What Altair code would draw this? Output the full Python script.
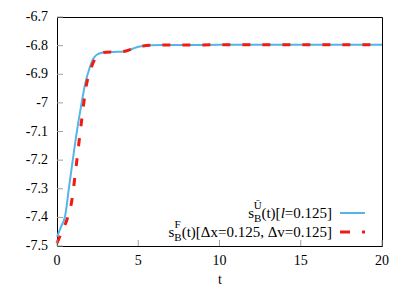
import altair as alt
import pandas as pd

# ---- data ----
t_blue = [0, 0.25, 0.5, 0.75, 1.0, 1.25, 1.5, 1.75, 2.0, 2.2, 2.4, 2.7, 3.0, 3.5,
          4.0, 4.3, 4.7, 5.0, 5.3, 5.7, 6.5, 8, 10, 12, 14, 16, 18, 20]
s_blue = [-7.468, -7.432, -7.395, -7.29, -7.188, -7.09, -7.005, -6.93, -6.879, -6.849,
          -6.834, -6.826, -6.823, -6.822, -6.821, -6.818, -6.810, -6.804, -6.801, -6.799,
          -6.798, -6.798, -6.797, -6.797, -6.797, -6.797, -6.797, -6.797]

t_red = [0, 0.3, 0.6, 0.9, 1.2, 1.5, 1.8, 2.1, 2.4, 2.7, 3.0, 3.5, 4.0, 4.3, 4.7,
         5.0, 5.3, 5.7, 6.5, 8, 10, 12, 14, 16, 18, 20]
s_red = [-7.49, -7.45, -7.41, -7.345, -7.211, -7.068, -6.94, -6.878, -6.841, -6.827,
         -6.823, -6.822, -6.821, -6.818, -6.810, -6.804, -6.801, -6.799, -6.798, -6.798,
         -6.797, -6.797, -6.797, -6.797, -6.797, -6.797]

x_ticks = [0, 5, 10, 15, 20]
x_labels = ["0", "5", "10", "15", "20"]
y_ticks = [-7.5, -7.4, -7.3, -7.2, -7.1, -7.0, -6.9, -6.8, -6.7]
y_labels = ["-7.5", "-7.4", "-7.3", "-7.2", "-7.1", "-7", "-6.9", "-6.8", "-6.7"]

W, H = 325, 229
FONT = "Liberation Serif"
BLUE = "#56B4E9"
RED = "#ee1c12"

blue_df = pd.DataFrame({"t": t_blue, "s": s_blue})
red_df = pd.DataFrame({"t": t_red, "s": s_red})
xt_df = pd.DataFrame({"v": x_ticks, "lab": x_labels})
yt_df = pd.DataFrame({"v": y_ticks, "lab": y_labels})

xscale = alt.Scale(domain=[0, 20], nice=False)
yscale = alt.Scale(domain=[-7.5, -6.7], nice=False)

xax = alt.Axis(values=x_ticks, ticks=False, tickSize=0, domain=False, grid=False,
               labels=False, labelPadding=0,
               title="t", titleFont=FONT, titleFontSize=14, titleFontWeight="normal",
               titleColor="black", titlePadding=26)
yax = alt.Axis(values=y_ticks, ticks=False, tickSize=0, domain=False, grid=False,
               labels=False, title=None)

X = lambda f: alt.X(f, scale=xscale, axis=xax)
Y = lambda f: alt.Y(f, scale=yscale, axis=yax)

blue = alt.Chart(blue_df).mark_line(color=BLUE, strokeWidth=2, interpolate="monotone").encode(
    x=X("t:Q"), y=Y("s:Q"))
red = alt.Chart(red_df).mark_line(color=RED, strokeWidth=3, strokeDash=[8, 12],
                                  interpolate="monotone").encode(
    x=X("t:Q"), y=Y("s:Q"))

yt = alt.Chart(yt_df).mark_rule(color="#a0a0a0", strokeWidth=1).encode(
    y=Y("v:Q"), x=alt.value(0), x2=alt.value(6))
xt = alt.Chart(xt_df).mark_rule(color="#a0a0a0", strokeWidth=1).encode(
    x=X("v:Q"), y=alt.value(H), y2=alt.value(H - 6))

ylab = alt.Chart(yt_df).mark_text(font=FONT, fontSize=14, align="right", baseline="middle",
                                  color="black").encode(
    y=Y("v:Q"), x=alt.value(-9), text="lab:N")
xlab = alt.Chart(xt_df).mark_text(font=FONT, fontSize=14, align="center", baseline="top",
                                  color="black").encode(
    x=X("v:Q"), y=alt.value(H + 8), text="lab:N")

one = alt.Data(values=[{}])


def txt(text, x, y, size=15, align="left", italic=False):
    return alt.Chart(one).mark_text(
        text=text, font=FONT, fontSize=size, align=align, baseline="alphabetic",
        color="black", fontStyle="italic" if italic else "normal"
    ).encode(x=alt.value(x), y=alt.value(y))


# legend entry 1
b1 = 201
leg1 = [
    txt("=0.125]", 275, b1, align="right"),
    txt("l", 227.8, b1, align="right", italic=True),
    txt("(t)[", 223.6, b1, align="right"),
    txt("B", 204.4, b1 + 4, size=11, align="right"),
    txt("Ū", 200.8, b1 - 9, size=11, align="center"),
    txt("s", 197.1, b1, align="right"),
]
# legend entry 2
b2 = 220
leg2 = [
    txt("(t)[Δx=0.125, Δv=0.125]", 275, b2, align="right"),
    txt("B", 124.6, b2 + 4, size=11, align="right"),
    txt("F", 117.6, b2 - 9, size=11, align="left"),
    txt("s", 117.3, b2, align="right"),
]
samp1 = alt.Chart(one).mark_rule(color=BLUE, strokeWidth=2).encode(
    x=alt.value(283), x2=alt.value(308), y=alt.value(196))
samp2 = alt.Chart(one).mark_rule(color=RED, strokeWidth=3, strokeDash=[10, 12]).encode(
    x=alt.value(283), x2=alt.value(308), y=alt.value(215))

chart = alt.layer(blue, red, yt, xt, ylab, xlab, samp1, samp2, *leg1, *leg2).properties(
    width=W, height=H,
    autosize=alt.AutoSizeParams(type="none"),
    padding={"left": 49, "top": 9, "right": 19, "bottom": 40},
).configure_view(stroke="black", strokeWidth=1, clip=False)

chart.save("out.html", embed_options={"renderer": "svg", "actions": False})
